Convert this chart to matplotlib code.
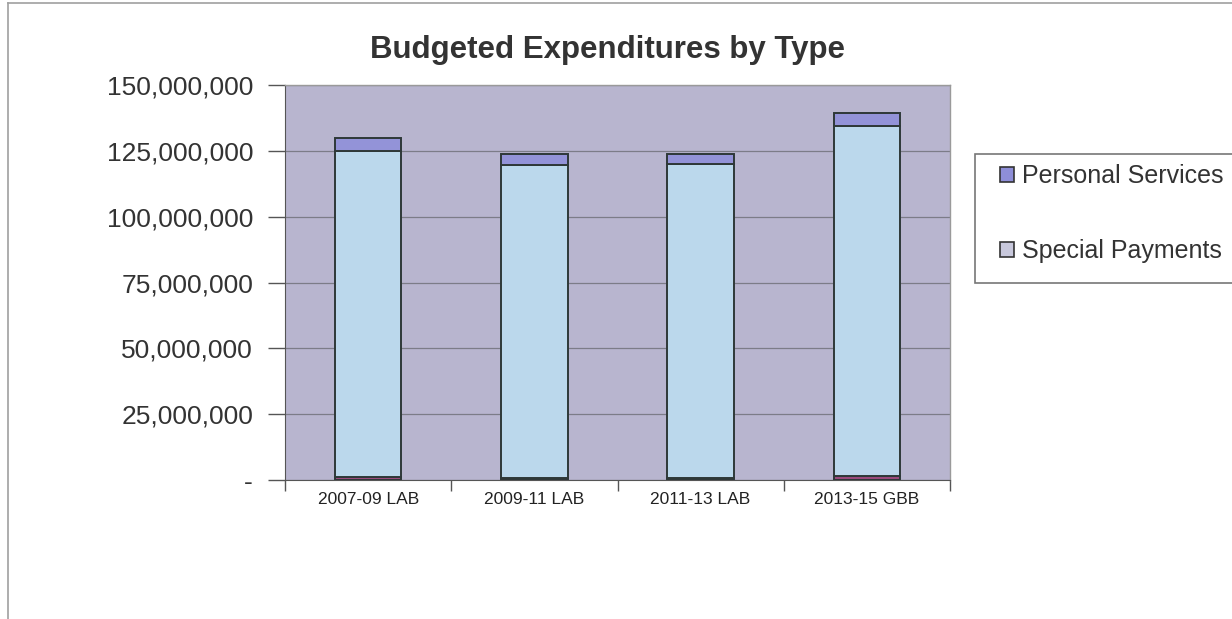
import matplotlib
matplotlib.use("Agg")
from matplotlib import pyplot as plt  # noqa
from matplotlib.patches import Patch, Rectangle
from matplotlib.lines import Line2D
from matplotlib.ticker import FuncFormatter, FixedLocator

categories = ['2007-09 LAB', '2009-11 LAB', '2011-13 LAB', '2013-15 GBB']
other_costs = [1000000, 800000, 800000, 1500000]
special_payments = [124000000, 118800000, 119100000, 132900000]
personal_services = [4900000, 4200000, 3800000, 4900000]

W, H = 1232, 619
plt.rcParams['font.family'] = ['Liberation Sans', 'DejaVu Sans']

fig = plt.figure(figsize=(W / 100, H / 100), dpi=100)
ax = fig.add_axes([285 / W, 1 - 480 / H, (950 - 285) / W, (480 - 85) / H])
ax.set_facecolor('#B8B5CF')

x = list(range(len(categories)))
edge = '#2E3838'
ax.bar(x, other_costs, width=0.4, color='#9A4A7C', edgecolor=edge, linewidth=1.4, zorder=3)
ax.bar(x, special_payments, width=0.4, bottom=other_costs, color='#BBD8EC',
       edgecolor=edge, linewidth=1.4, zorder=3)
tops = [a + b for a, b in zip(other_costs, special_payments)]
ax.bar(x, personal_services, width=0.4, bottom=tops, color='#9393D8',
       edgecolor=edge, linewidth=1.4, zorder=3)

ax.set_xlim(-0.5, len(categories) - 0.5)
ax.set_ylim(0, 150000000)
ax.set_yticks(range(0, 150000001, 25000000))
ax.yaxis.set_major_formatter(FuncFormatter(lambda v, p: '-' if v == 0 else f'{int(v):,}'))
ax.grid(axis='y', color='#7C7C88', linewidth=0.9, zorder=1)

ax.set_xticks(x)
ax.set_xticklabels(categories, fontsize=12.5)
ax.xaxis.set_minor_locator(FixedLocator([i - 0.5 for i in range(len(categories) + 1)]))
ax.tick_params(axis='x', which='major', length=0, pad=9, colors='#222222')
ax.tick_params(axis='x', which='minor', length=8, width=1, color='#555555')
ax.tick_params(axis='y', length=12, width=1, color='#555555', pad=11, labelsize=19,
               labelcolor='#333333')

for side in ['top', 'right']:
    ax.spines[side].set_color('#9A9A9A')
    ax.spines[side].set_linewidth(1)
ax.spines['left'].set_color('#555555')
ax.spines['bottom'].set_color('#555555')

fig.text(608 / W, 1 - 50 / H, 'Budgeted Expenditures by Type', ha='center', va='center',
         fontsize=22.5, fontweight='bold', color='#333333')

# outer chart border and legend box
fig.add_artist(Line2D([8 / W, 8 / W], [0, 1 - 3 / H], color='#A0A0A0', linewidth=1.2))
fig.add_artist(Line2D([8 / W, 1], [1 - 3 / H, 1 - 3 / H], color='#A0A0A0', linewidth=1.2))
fig.add_artist(Rectangle((975 / W, 1 - 283 / H), (1240 - 975) / W, (283 - 154) / H,
                         transform=fig.transFigure, facecolor='white', edgecolor='#777777',
                         linewidth=1.2, clip_on=False))

handles = [Patch(facecolor='#8E8ED8', edgecolor='#333333', linewidth=1.2),
           Patch(facecolor='#C8C8DC', edgecolor='#333333', linewidth=1.2)]
fig.legend(handles, ['Personal Services', 'Special Payments'], loc='upper left',
           bbox_to_anchor=(1000 / W, 1 - 164 / H), frameon=False, fontsize=18,
           handlelength=0.55, handleheight=0.55, handletextpad=0.35, labelspacing=2.05,
           borderpad=0, borderaxespad=0, labelcolor='#333333')

fig.savefig('out.png', dpi=100, facecolor='white')
